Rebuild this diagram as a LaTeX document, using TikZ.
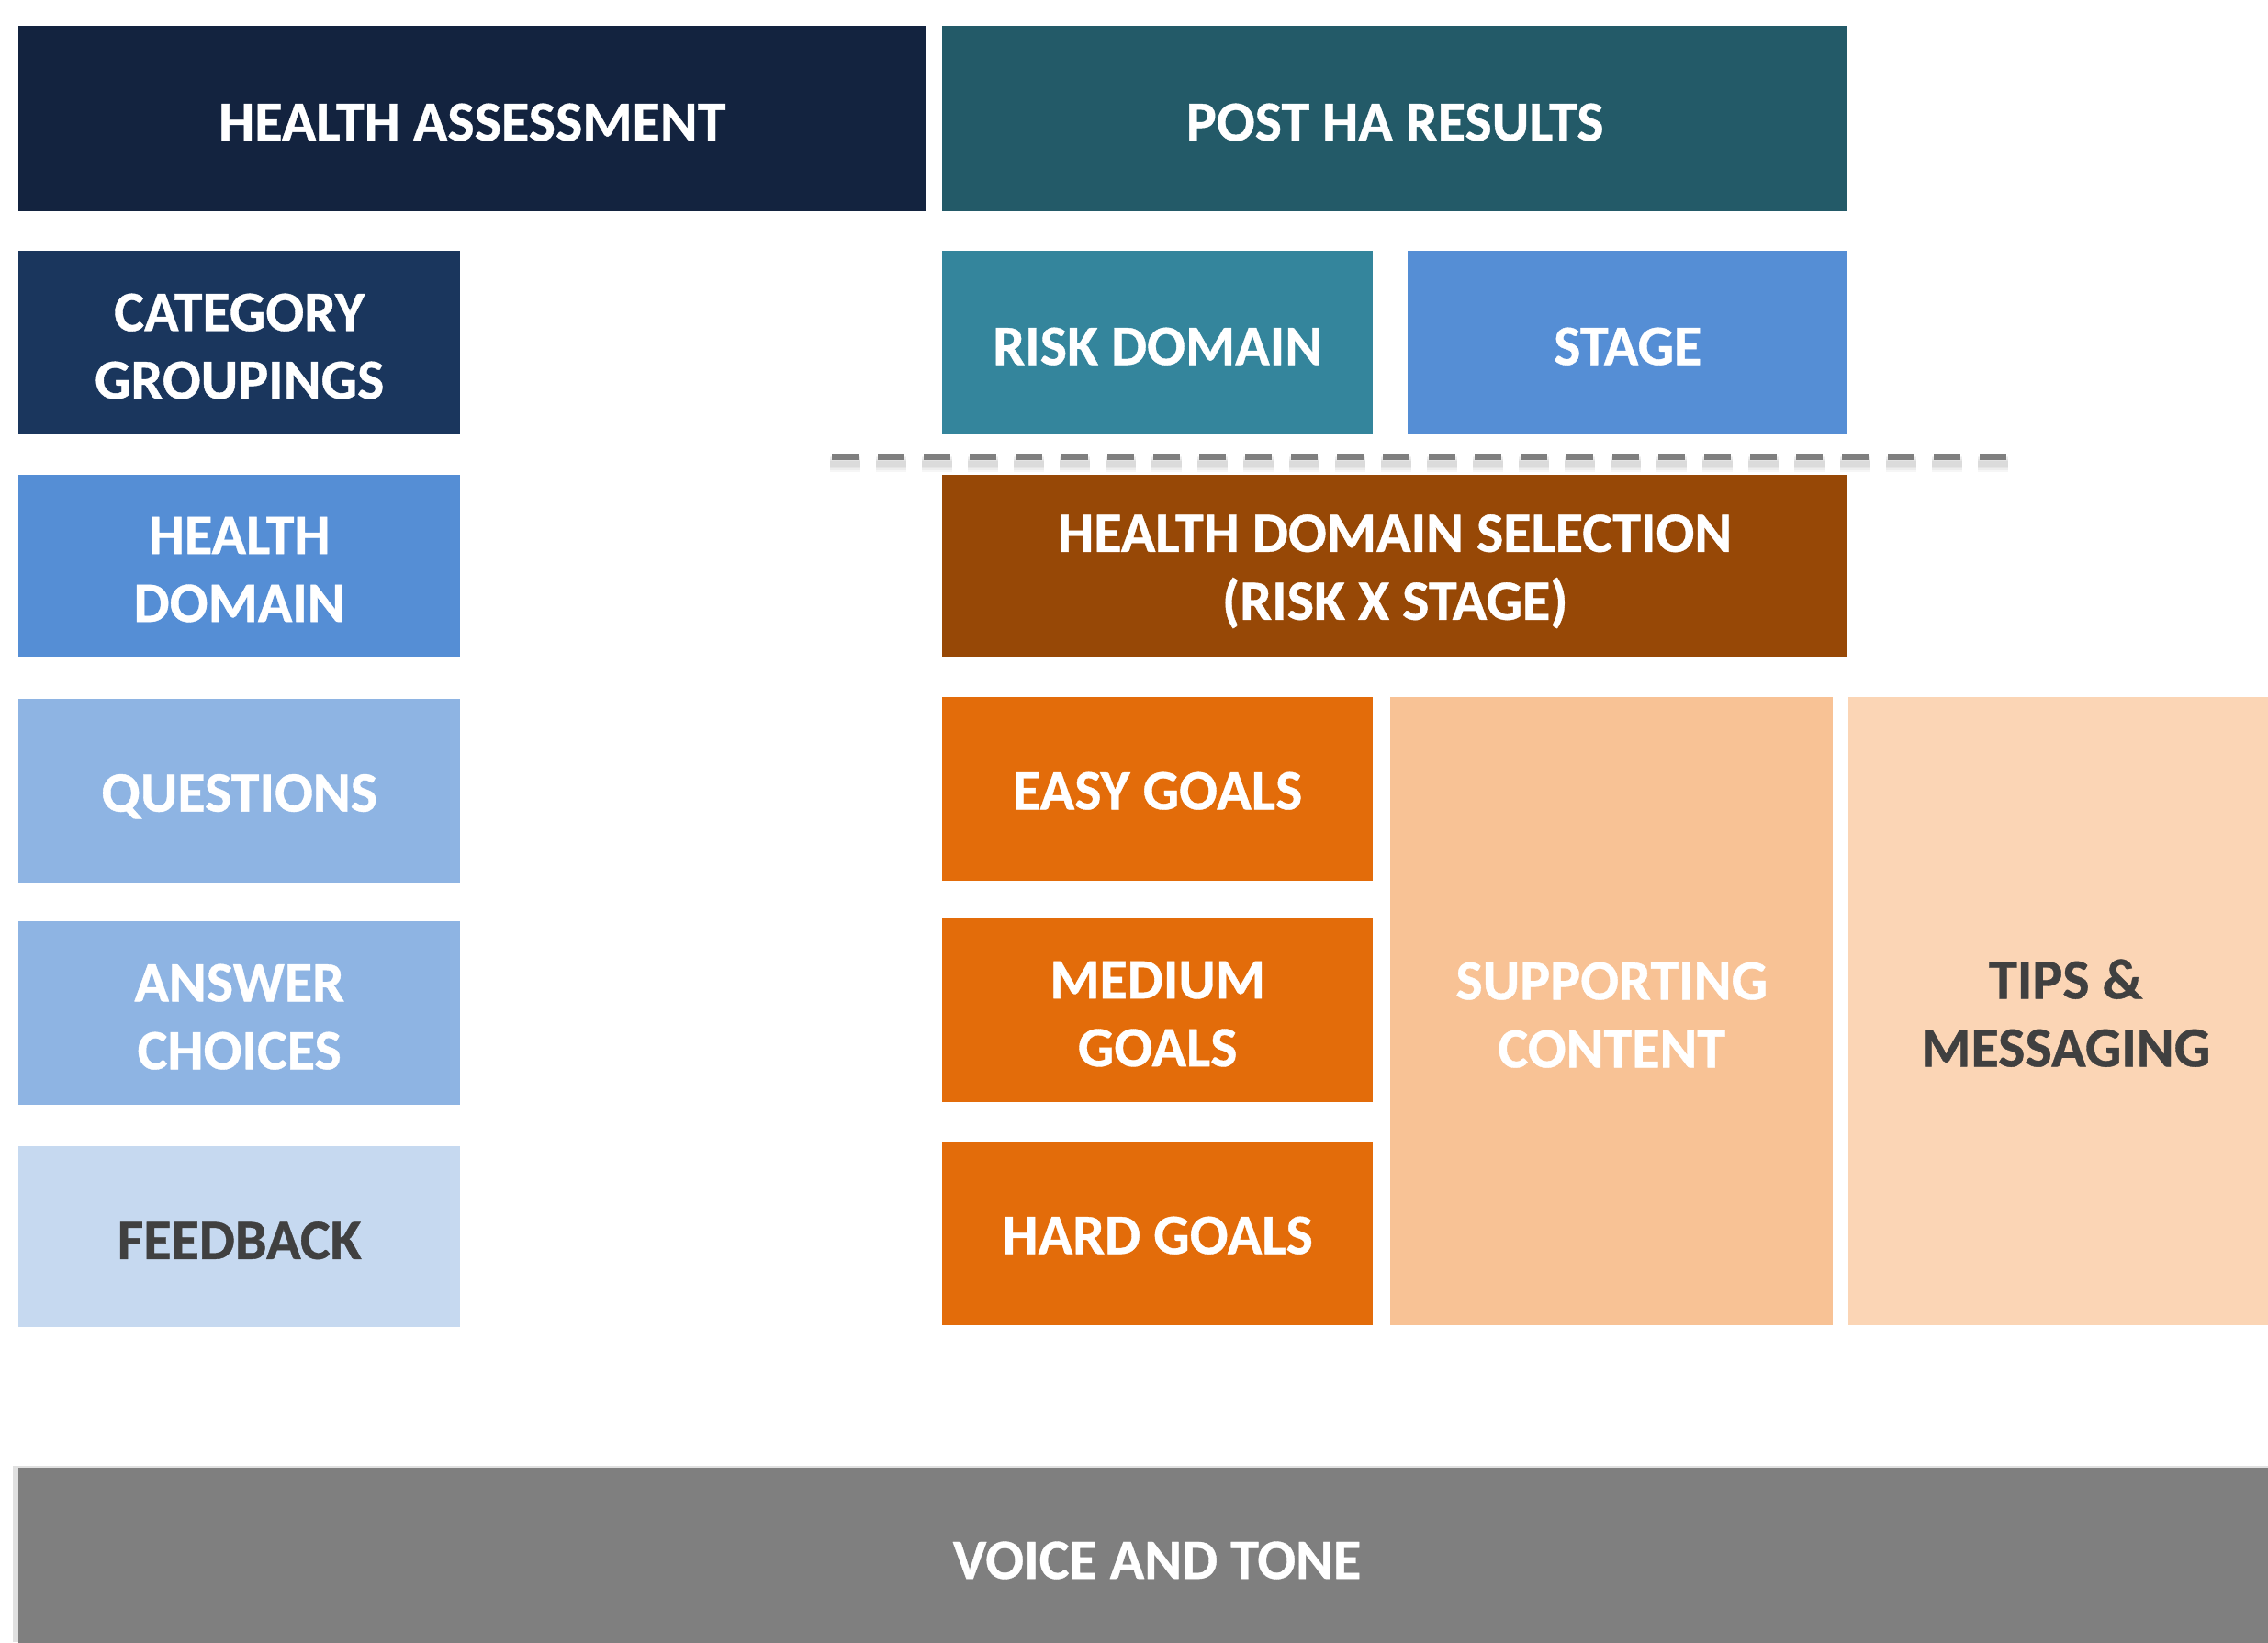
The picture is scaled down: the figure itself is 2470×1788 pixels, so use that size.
\documentclass[tikz,border=0pt]{standalone}
\usepackage{fontspec}
\setmainfont{Carlito}[BoldFeatures={FakeBold=0.6}]
\definecolor{navyA}{HTML}{13233F}
\definecolor{navyB}{HTML}{1A365D}
\definecolor{tealA}{HTML}{235A68}
\definecolor{tealB}{HTML}{34859C}
\definecolor{blueA}{HTML}{558ED5}
\definecolor{blueB}{HTML}{8EB4E3}
\definecolor{blueC}{HTML}{C6D9F0}
\definecolor{brownA}{HTML}{974806}
\definecolor{orangeA}{HTML}{E36C0A}
\definecolor{peachA}{HTML}{F8C295}
\definecolor{peachB}{HTML}{FBD5B5}
\definecolor{greyA}{HTML}{7F7F7F}
\definecolor{darktext}{HTML}{404040}
\begin{document}
\begin{tikzpicture}[x=1pt,y=-1pt,
  blk/.style={anchor=north west, inner sep=0pt},
  lbl/.style={inner sep=0pt, align=center, text=white, yshift=-4pt,
    font=\fontsize{62}{74}\selectfont\bfseries},
  darklabel/.style={text=darktext},
  divider/.style={draw=greyA, line width=7pt, dash pattern=on 29pt off 21pt},
  dividershade/.style={draw=black, opacity=0.035, dash pattern=on 33pt off 17pt}]
\useasboundingbox[fill=white] (0,0) rectangle (2470,1788);

% top row
\node[blk, fill=navyA, minimum width=988pt, minimum height=202pt,
  label={[lbl]center:HEALTH ASSESSMENT}] (ha) at (20,28) {};
\node[blk, fill=tealA, minimum width=986pt, minimum height=202pt,
  label={[lbl]center:POST HA RESULTS}] (post) at (1026,28) {};

% left column: assessment structure
\node[blk, fill=navyB, minimum width=481pt, minimum height=200pt,
  label={[lbl]center:CATEGORY\\GROUPINGS}] (cat) at (20,273) {};
\node[blk, fill=blueA, minimum width=481pt, minimum height=198pt,
  label={[lbl]center:HEALTH\\DOMAIN}] (hd) at (20,517) {};
\node[blk, fill=blueB, minimum width=481pt, minimum height=200pt,
  label={[lbl,yshift=-2pt]center:QUESTIONS}] (q) at (20,761) {};
\node[blk, fill=blueB, minimum width=481pt, minimum height=200pt,
  label={[lbl]center:ANSWER\\CHOICES}] (ans) at (20,1003) {};
\node[blk, fill=blueC, minimum width=481pt, minimum height=197pt,
  label={[lbl,darklabel]center:FEEDBACK}] (fb) at (20,1248) {};

% right side: results
\node[blk, fill=tealB, minimum width=469pt, minimum height=200pt,
  label={[lbl]center:RISK DOMAIN}] (risk) at (1026,273) {};
\node[blk, fill=blueA, minimum width=479pt, minimum height=200pt,
  label={[lbl]center:STAGE}] (stage) at (1533,273) {};

% dashed divider with its soft shadow
\coordinate (dl) at (906,497);
\coordinate (dr) at (2185,497);
\coordinate (dls) at (904,505);
\coordinate (drs) at (2187,505);
\foreach \w in {6,10,14,18}
  \draw[dividershade, line width=\w pt] (dls) -- (drs);
\draw[divider] (dl) -- (dr);

\node[blk, fill=brownA, minimum width=986pt, minimum height=198pt,
  label={[lbl,yshift=-2pt]center:HEALTH DOMAIN SELECTION\\(RISK X STAGE)}] (sel) at (1026,517) {};

\node[blk, fill=orangeA, minimum width=469pt, minimum height=200pt,
  label={[lbl,yshift=2pt]center:EASY GOALS}] (easy) at (1026,759) {};
\node[blk, fill=orangeA, minimum width=469pt, minimum height=200pt,
  label={[lbl]center:MEDIUM\\GOALS}] (med) at (1026,1000) {};
\node[blk, fill=orangeA, minimum width=469pt, minimum height=200pt,
  label={[lbl,yshift=2pt]center:HARD GOALS}] (hard) at (1026,1243) {};

\node[blk, fill=peachA, minimum width=482pt, minimum height=684pt,
  label={[lbl]center:SUPPORTING\\CONTENT}] (sup) at (1514,759) {};
\node[blk, fill=peachB, minimum width=457pt, minimum height=684pt,
  label={[lbl,darklabel,xshift=8pt,yshift=2pt]center:TIPS \&\\MESSAGING}] (tips) at (2013,759) {};

% bottom band
\fill[black, opacity=0.12] (14,1596) rectangle (2470,1788);
\node[blk, fill=greyA, minimum width=2450pt, minimum height=205pt] (voice) at (20,1598) {};
\node[lbl] (voicetext) at (1260,1695) {VOICE AND TONE};
\end{tikzpicture}
\end{document}
